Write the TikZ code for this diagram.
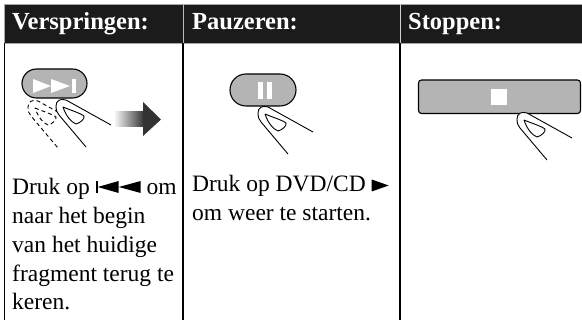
\documentclass[tikz,border=0pt]{standalone}
\usepackage{fontspec}
\setmainfont{Liberation Serif}
\definecolor{hdrfill}{HTML}{1B1B1B}
\definecolor{keyfill}{HTML}{B4B4B4}
\definecolor{arrowdark}{HTML}{333333}
% inline key symbols used in the running text
\newcommand{\prevkey}{\tikz[baseline=0pt,x=1pt,y=1pt]{%
  \fill (0,2) rectangle (1.8,13.5);
  \fill (2,8) -- (23,14) -- (23,2) -- cycle;
  \fill (23,8) -- (45,14) -- (45,2) -- cycle;}}
\newcommand{\playkey}{\tikz[baseline=0pt,x=1pt,y=1pt]{%
  \fill (0,0.5) -- (17,6.5) -- (0,12.5) -- cycle;}}
\begin{document}
\begin{tikzpicture}[x=1pt,y=-1pt,
  rule/.style={line width=1.2pt,black},
  hdrrule/.style={line width=1pt,gray!55},
  hdrtext/.style={font=\bfseries\fontsize{24.5}{28}\selectfont,text=white,anchor=base west,inner sep=0pt},
  bodytext/.style={font=\fontsize{23.5}{28.7}\selectfont,anchor=base west,inner sep=0pt,align=left},
  keycap/.style={fill=keyfill,draw=black,line width=1.1pt},
  keyglyph/.style={fill=white,draw=none},
  fingerline/.style={line width=0.9pt,black},
  ghost/.style={dash pattern=on 4pt off 3pt},
  finger/.pic={
    \fill[white] (55,26) -- (10,1) .. controls (4,-1) and (0,2) .. (0,7)
      .. controls (0,11) and (1,14) .. (3,16) -- (30,48) -- cycle;
    \draw[fingerline] (55,26) -- (10,1) .. controls (4,-1) and (0,2) .. (0,7)
      .. controls (0,11) and (1,14) .. (3,16) -- (30,48);
    \draw[fingerline] (7,8) .. controls (14,11) and (24,14) .. (28,17)
      .. controls (29,20) and (24,24) .. (20,25) .. controls (15,23) and (10,17) .. (7,8);
  }]
\useasboundingbox (0,0) rectangle (582,320);

% header band
\fill[hdrfill,draw=gray!70,line width=0.6pt] (4,4) rectangle (583,43);
\draw[hdrrule] (183,4) -- (183,43);
\draw[hdrrule,gray!35] (400,4) -- (400,43);
\node[hdrtext] (h1) at (12,29.5) {Verspringen:};
\node[hdrtext] (h2) at (192,29.5) {Pauzeren:};
\node[hdrtext] (h3) at (408,29.5) {Stoppen:};

% column rules
\draw[rule] (4.5,43) -- (4.5,320);
\draw[rule] (183,43) -- (183,320);
\draw[rule] (400,43) -- (400,320);

% column 1: skip key, finger moving, arrow
\draw[keycap,rounded corners=14.5pt] (22,69) rectangle (87,98);
\fill[keyglyph] (33,79) -- (51,86) -- (33,93) -- cycle;
\fill[keyglyph] (51,79) -- (70,86) -- (51,93) -- cycle;
\fill[keyglyph] (71.5,79) rectangle (76,93);
\pic[ghost] at (28,100) {finger};
\pic at (56,99) {finger};
\shade[left color=gray!8,right color=arrowdark] (115,112) rectangle (144,127);
\fill[arrowdark] (143,102) -- (161,119.5) -- (143,136) -- cycle;

% column 2: pause key
\draw[keycap,rounded corners=16pt] (230,74) rectangle (296,106);
\fill[keyglyph] (258.3,82) rectangle (262.7,99);
\fill[keyglyph] (267.3,82) rectangle (271.7,99);
\pic at (258,106) {finger};

% column 3: stop key
\draw[keycap,rounded corners=3pt] (418.5,80) rectangle (580.5,113.5);
\fill[keyglyph] (491,89) rectangle (507,105);
\pic at (517,112) {finger};

% running text (node base sits on the last line)
\node[bodytext] (t1) at (12,309.8) {Druk op \prevkey\ om\\naar het begin\\van het huidige\\fragment terug te\\keren.};
\node[bodytext] (t2) at (192,220.7) {Druk op DVD/CD \playkey\\om weer te starten.};
\end{tikzpicture}
\end{document}
